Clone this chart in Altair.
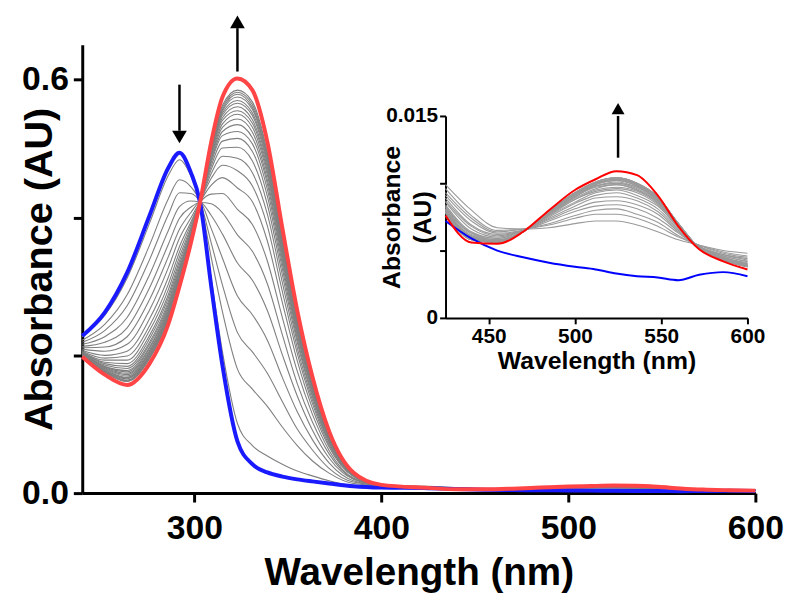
import altair as alt
import pandas as pd

FONT = "Liberation Sans"

# ---------------- main spectra (240-400 nm) ----------------
wl_main = [240, 252, 264, 276, 286, 292, 298, 303, 309, 315, 323, 331, 339, 347, 355, 363, 372, 385, 400]
blue_main = [0.228, 0.262, 0.320, 0.403, 0.472, 0.494, 0.466, 0.422, 0.300, 0.185, 0.075, 0.042, 0.030,
             0.024, 0.020, 0.017, 0.014, 0.010, 0.008]
red_main = [0.198, 0.172, 0.157, 0.188, 0.245, 0.300, 0.362, 0.422, 0.510, 0.575, 0.602, 0.585, 0.510,
            0.385, 0.265, 0.170, 0.090, 0.030, 0.012]

# grey intermediate spectra: one row per wavelength in wl_main, 24 curves per row
grey_main = [
    [0.227, 0.222, 0.219, 0.216, 0.213, 0.211, 0.209, 0.207, 0.206, 0.205, 0.204, 0.203, 0.202, 0.202, 0.201, 0.201, 0.201, 0.200, 0.200, 0.200, 0.200, 0.199, 0.199, 0.199],
    [0.258, 0.245, 0.236, 0.227, 0.219, 0.212, 0.206, 0.200, 0.196, 0.193, 0.190, 0.188, 0.186, 0.184, 0.183, 0.182, 0.181, 0.180, 0.179, 0.178, 0.177, 0.177, 0.176, 0.175],
    [0.312, 0.288, 0.272, 0.255, 0.240, 0.227, 0.216, 0.206, 0.199, 0.193, 0.188, 0.184, 0.181, 0.178, 0.176, 0.174, 0.172, 0.170, 0.168, 0.167, 0.166, 0.164, 0.163, 0.162],
    [0.392, 0.360, 0.339, 0.317, 0.298, 0.281, 0.266, 0.253, 0.243, 0.236, 0.229, 0.224, 0.219, 0.216, 0.212, 0.210, 0.207, 0.205, 0.203, 0.201, 0.199, 0.198, 0.196, 0.195],
    [0.461, 0.427, 0.404, 0.381, 0.361, 0.343, 0.327, 0.313, 0.303, 0.295, 0.288, 0.283, 0.278, 0.274, 0.271, 0.268, 0.265, 0.263, 0.260, 0.259, 0.257, 0.255, 0.254, 0.252],
    [0.484, 0.455, 0.436, 0.416, 0.399, 0.383, 0.370, 0.358, 0.350, 0.343, 0.337, 0.332, 0.328, 0.325, 0.322, 0.319, 0.317, 0.315, 0.313, 0.312, 0.310, 0.309, 0.307, 0.306],
    [0.461, 0.445, 0.435, 0.424, 0.415, 0.407, 0.399, 0.393, 0.389, 0.385, 0.382, 0.379, 0.377, 0.375, 0.374, 0.372, 0.371, 0.370, 0.369, 0.368, 0.367, 0.367, 0.366, 0.365],
    [0.422, 0.422, 0.422, 0.422, 0.422, 0.422, 0.422, 0.422, 0.422, 0.422, 0.422, 0.422, 0.422, 0.422, 0.422, 0.422, 0.422, 0.422, 0.422, 0.422, 0.422, 0.422, 0.422, 0.422],
    [0.311, 0.342, 0.363, 0.384, 0.403, 0.420, 0.434, 0.447, 0.457, 0.464, 0.470, 0.475, 0.480, 0.483, 0.486, 0.489, 0.492, 0.494, 0.496, 0.497, 0.499, 0.501, 0.502, 0.504],
    [0.205, 0.263, 0.302, 0.341, 0.376, 0.407, 0.435, 0.458, 0.476, 0.489, 0.501, 0.511, 0.519, 0.525, 0.531, 0.536, 0.541, 0.545, 0.549, 0.552, 0.555, 0.557, 0.560, 0.563],
    [0.101, 0.180, 0.233, 0.286, 0.334, 0.375, 0.412, 0.443, 0.468, 0.486, 0.502, 0.515, 0.525, 0.535, 0.543, 0.550, 0.555, 0.561, 0.566, 0.570, 0.575, 0.579, 0.582, 0.585],
    [0.069, 0.151, 0.205, 0.259, 0.309, 0.351, 0.390, 0.423, 0.446, 0.465, 0.482, 0.496, 0.507, 0.516, 0.524, 0.531, 0.537, 0.542, 0.548, 0.552, 0.557, 0.560, 0.564, 0.568],
    [0.054, 0.126, 0.174, 0.222, 0.265, 0.304, 0.337, 0.366, 0.388, 0.405, 0.419, 0.431, 0.441, 0.449, 0.455, 0.462, 0.467, 0.472, 0.477, 0.481, 0.485, 0.488, 0.492, 0.495],
    [0.042, 0.096, 0.133, 0.168, 0.201, 0.230, 0.255, 0.277, 0.293, 0.306, 0.317, 0.326, 0.333, 0.339, 0.344, 0.349, 0.353, 0.357, 0.360, 0.363, 0.366, 0.369, 0.371, 0.374],
    [0.032, 0.069, 0.093, 0.118, 0.141, 0.159, 0.177, 0.192, 0.203, 0.211, 0.219, 0.224, 0.229, 0.233, 0.237, 0.240, 0.243, 0.246, 0.248, 0.250, 0.252, 0.254, 0.256, 0.257],
    [0.025, 0.047, 0.063, 0.078, 0.092, 0.104, 0.115, 0.124, 0.131, 0.136, 0.141, 0.144, 0.148, 0.150, 0.153, 0.155, 0.156, 0.158, 0.160, 0.161, 0.162, 0.163, 0.164, 0.165],
    [0.018, 0.029, 0.036, 0.044, 0.051, 0.057, 0.062, 0.067, 0.070, 0.073, 0.075, 0.077, 0.079, 0.080, 0.081, 0.082, 0.083, 0.084, 0.085, 0.085, 0.086, 0.086, 0.087, 0.088],
    [0.011, 0.014, 0.016, 0.018, 0.020, 0.021, 0.022, 0.024, 0.025, 0.025, 0.026, 0.027, 0.027, 0.027, 0.028, 0.028, 0.028, 0.028, 0.029, 0.029, 0.029, 0.029, 0.029, 0.029],
    [0.0108, 0.0110, 0.0111, 0.0112, 0.0113, 0.0113, 0.0114, 0.0114, 0.0115, 0.0115, 0.0115, 0.0116, 0.0116, 0.0116, 0.0116, 0.0117, 0.0117, 0.0117, 0.0117, 0.0118, 0.0118, 0.0118, 0.0118, 0.0118],
]

# ---------------- visible-band tail (425-600 nm, also the inset) ----------------
wl_tail = [425, 440, 455, 470, 485, 500, 512, 524, 536, 548, 560, 572, 586, 600]
blue_tail = [0.0072, 0.0059, 0.0050, 0.0045, 0.0041, 0.0038, 0.0036, 0.0033, 0.0031, 0.0030, 0.0028, 0.0032, 0.0034, 0.0031]
red_tail = [0.0076, 0.0056, 0.0055, 0.0064, 0.0080, 0.0095, 0.0103, 0.0109, 0.0106, 0.0091, 0.0068, 0.0051, 0.0042, 0.0036]
# one row per grey curve (same 24 curves as above), values at wl_tail
grey_tail = [
    [0.0099, 0.0080, 0.0067, 0.0066, 0.0067, 0.0070, 0.0072, 0.0072, 0.0069, 0.0064, 0.0058, 0.0054, 0.0050, 0.0048],
    [0.0096, 0.0076, 0.0065, 0.0066, 0.0069, 0.0074, 0.0077, 0.0077, 0.0074, 0.0068, 0.0060, 0.0054, 0.0049, 0.0046],
    [0.0093, 0.0074, 0.0064, 0.0066, 0.0070, 0.0076, 0.0080, 0.0081, 0.0077, 0.0071, 0.0061, 0.0054, 0.0048, 0.0045],
    [0.0091, 0.0072, 0.0063, 0.0065, 0.0072, 0.0079, 0.0083, 0.0084, 0.0081, 0.0074, 0.0063, 0.0053, 0.0047, 0.0044],
    [0.0089, 0.0069, 0.0062, 0.0065, 0.0073, 0.0081, 0.0086, 0.0087, 0.0084, 0.0077, 0.0064, 0.0053, 0.0047, 0.0043],
    [0.0087, 0.0068, 0.0061, 0.0065, 0.0074, 0.0083, 0.0089, 0.0090, 0.0087, 0.0079, 0.0065, 0.0053, 0.0046, 0.0042],
    [0.0086, 0.0066, 0.0060, 0.0065, 0.0075, 0.0085, 0.0091, 0.0093, 0.0089, 0.0081, 0.0066, 0.0053, 0.0046, 0.0042],
    [0.0084, 0.0064, 0.0059, 0.0065, 0.0076, 0.0086, 0.0093, 0.0095, 0.0091, 0.0083, 0.0067, 0.0053, 0.0045, 0.0041],
    [0.0083, 0.0063, 0.0059, 0.0065, 0.0076, 0.0088, 0.0094, 0.0096, 0.0093, 0.0084, 0.0067, 0.0053, 0.0045, 0.0040],
    [0.0082, 0.0063, 0.0058, 0.0064, 0.0077, 0.0088, 0.0095, 0.0097, 0.0094, 0.0085, 0.0068, 0.0052, 0.0045, 0.0040],
    [0.0082, 0.0062, 0.0058, 0.0064, 0.0077, 0.0089, 0.0096, 0.0099, 0.0095, 0.0086, 0.0068, 0.0052, 0.0044, 0.0040],
    [0.0081, 0.0061, 0.0058, 0.0064, 0.0077, 0.0090, 0.0097, 0.0099, 0.0095, 0.0086, 0.0068, 0.0052, 0.0044, 0.0040],
    [0.0081, 0.0061, 0.0057, 0.0064, 0.0078, 0.0090, 0.0098, 0.0100, 0.0096, 0.0087, 0.0069, 0.0052, 0.0044, 0.0039],
    [0.0080, 0.0060, 0.0057, 0.0064, 0.0078, 0.0090, 0.0098, 0.0100, 0.0097, 0.0087, 0.0069, 0.0052, 0.0044, 0.0039],
    [0.0080, 0.0060, 0.0057, 0.0064, 0.0078, 0.0091, 0.0098, 0.0101, 0.0097, 0.0088, 0.0069, 0.0052, 0.0044, 0.0039],
    [0.0080, 0.0060, 0.0057, 0.0064, 0.0078, 0.0091, 0.0099, 0.0102, 0.0098, 0.0088, 0.0069, 0.0052, 0.0044, 0.0039],
    [0.0079, 0.0059, 0.0057, 0.0064, 0.0078, 0.0092, 0.0099, 0.0102, 0.0098, 0.0088, 0.0069, 0.0052, 0.0043, 0.0039],
    [0.0079, 0.0059, 0.0057, 0.0064, 0.0078, 0.0092, 0.0100, 0.0102, 0.0098, 0.0089, 0.0069, 0.0052, 0.0043, 0.0039],
    [0.0079, 0.0059, 0.0056, 0.0064, 0.0079, 0.0092, 0.0100, 0.0103, 0.0099, 0.0089, 0.0070, 0.0052, 0.0043, 0.0038],
    [0.0079, 0.0059, 0.0056, 0.0064, 0.0079, 0.0092, 0.0100, 0.0103, 0.0099, 0.0089, 0.0070, 0.0052, 0.0043, 0.0038],
    [0.0078, 0.0058, 0.0056, 0.0064, 0.0079, 0.0093, 0.0100, 0.0103, 0.0099, 0.0089, 0.0070, 0.0052, 0.0043, 0.0038],
    [0.0078, 0.0058, 0.0056, 0.0064, 0.0079, 0.0093, 0.0101, 0.0104, 0.0100, 0.0090, 0.0070, 0.0052, 0.0043, 0.0038],
    [0.0078, 0.0058, 0.0056, 0.0064, 0.0079, 0.0093, 0.0101, 0.0104, 0.0100, 0.0090, 0.0070, 0.0052, 0.0043, 0.0038],
    [0.0078, 0.0058, 0.0056, 0.0064, 0.0079, 0.0093, 0.0101, 0.0104, 0.0100, 0.0090, 0.0070, 0.0052, 0.0043, 0.0038],
]

# arrows (data coordinates)
arrow_main_x = [292, 323]
arrow_main_from = [0.593, 0.612]
arrow_main_to = [0.526, 0.675]
arrow_main_head = [0.517, 0.684]
arrow_main_shape = ["triangle-down", "triangle-up"]
arrow_in_x = [525]
arrow_in_from = [0.0119]
arrow_in_to = [0.0150]
arrow_in_head = [0.01555]
arrow_in_shape = ["triangle-up"]

# ---------------- tables ----------------
rows = []
for k, w in enumerate(wl_main):
    rows.append({"wl": w, "A": blue_main[k], "curve": "blue"})
    rows.append({"wl": w, "A": red_main[k], "curve": "red"})
    for i, v in enumerate(grey_main[k]):
        rows.append({"wl": w, "A": v, "curve": f"g{i:02d}"})
for k, w in enumerate(wl_tail):
    rows.append({"wl": w, "A": blue_tail[k], "curve": "blue"})
    rows.append({"wl": w, "A": red_tail[k], "curve": "red"})
    for i in range(len(grey_tail)):
        rows.append({"wl": w, "A": grey_tail[i][k], "curve": f"g{i:02d}"})
df = pd.DataFrame(rows)
df_grey = df[df.curve.str.startswith("g")]
df_blue = df[df.curve == "blue"]
df_red = df[df.curve == "red"]
tail = df.wl >= 425
df_grey_in = df[tail & df.curve.str.startswith("g")]
df_blue_in = df[tail & (df.curve == "blue")]
df_red_in = df[tail & (df.curve == "red")]

arrows_main = pd.DataFrame({"x": arrow_main_x, "y1": arrow_main_from, "y2": arrow_main_to,
                            "yh": arrow_main_head, "shape": arrow_main_shape})
arrows_in = pd.DataFrame({"x": arrow_in_x, "y1": arrow_in_from, "y2": arrow_in_to,
                          "yh": arrow_in_head, "shape": arrow_in_shape})

W, H = 680, 453

# ---------------- main panel ----------------
xs_main = alt.Scale(domain=[240, 600], nice=False, zero=False)
ys_main = alt.Scale(domain=[0, 0.651], nice=False, zero=False)
ax_x_main = alt.Axis(values=[300, 400, 500, 600], format="d", title="Wavelength (nm)", grid=False,
                     domainColor="black", domainWidth=3, tickColor="black", tickWidth=3, tickSize=9,
                     labelFont=FONT, labelFontSize=34, labelFontWeight="bold", labelColor="black",
                     labelPadding=10, titleFont=FONT, titleFontSize=39, titleFontWeight="bold",
                     titleColor="black", titlePadding=8, labelFlush=False)
ax_y_main = alt.Axis(values=[0, 0.2, 0.4, 0.6],
                     labelExpr="datum.value == 0 ? '0.0' : (datum.value == 0.6 ? '0.6' : '')",
                     title="Absorbance (AU)", grid=False,
                     domainColor="black", domainWidth=3, tickColor="black", tickWidth=3, tickSize=9,
                     labelFont=FONT, labelFontSize=34, labelFontWeight="bold", labelColor="black",
                     labelPadding=5, titleFont=FONT, titleFontSize=40, titleFontWeight="bold",
                     titleColor="black", titleX=-23, titleY=H / 2, labelFlush=False)

xm = alt.X("wl:Q", scale=xs_main, axis=ax_x_main)
ym = alt.Y("A:Q", scale=ys_main, axis=ax_y_main)

grey_m = alt.Chart(df_grey).mark_line(color="#7f7f7f", strokeWidth=1.1, interpolate="monotone").encode(
    x=xm, y=ym, detail="curve:N")
blue_m = alt.Chart(df_blue).mark_line(color="#1a1aff", strokeWidth=4, interpolate="monotone").encode(x=xm, y=ym)
red_m = alt.Chart(df_red).mark_line(color="#ff4545", strokeWidth=4, interpolate="monotone").encode(x=xm, y=ym)
arr_m = alt.Chart(arrows_main).mark_rule(color="black", strokeWidth=2.5).encode(
    x=alt.X("x:Q", scale=xs_main, axis=ax_x_main),
    y=alt.Y("y1:Q", scale=ys_main, axis=ax_y_main), y2="y2:Q")
head_m = alt.Chart(arrows_main).mark_point(filled=True, color="black", opacity=1, size=220).encode(
    x=alt.X("x:Q", scale=xs_main, axis=ax_x_main),
    y=alt.Y("yh:Q", scale=ys_main, axis=ax_y_main),
    shape=alt.Shape("shape:N", scale=None))
main = alt.layer(grey_m, blue_m, red_m, arr_m, head_m)

# ---------------- inset panel ----------------
IN_L, IN_R, IN_B, IN_T = 367, 672, 276, 72
xs_in = alt.Scale(domain=[425, 600], range=[IN_L, IN_R], nice=False, zero=False)
ys_in = alt.Scale(domain=[0, 0.015], range=[IN_B, IN_T], nice=False, zero=False)
ax_x_in = alt.Axis(orient="bottom", offset=-(H - IN_B), values=[450, 500, 550, 600], format="d",
                   title="Wavelength (nm)", grid=False, domainColor="black", domainWidth=2,
                   tickColor="black", tickWidth=2, tickSize=6, labelFont=FONT, labelFontSize=21,
                   labelFontWeight="bold", labelColor="black", labelPadding=2, titleFont=FONT,
                   titleFontSize=25, titleFontWeight="bold", titleColor="black", titlePadding=2,
                   labelFlush=False)
ax_y_in = alt.Axis(orient="left", offset=-IN_L, values=[0, 0.005, 0.01, 0.015],
                   labelExpr="datum.value == 0 ? '0' : (datum.value == 0.015 ? '0.015' : '')",
                   title=["Absorbance", "(AU)"], grid=False, domainColor="black", domainWidth=2,
                   tickColor="black", tickWidth=2, tickSize=6, labelFont=FONT, labelFontSize=21,
                   labelFontWeight="bold", labelColor="black", labelPadding=2, titleFont=FONT,
                   titleFontSize=25, titleFontWeight="bold", titleColor="black",
                   titleX=-42, titleY=(IN_B + IN_T) / 2, titleLineHeight=32, labelFlush=False)
xi = alt.X("wl:Q", scale=xs_in, axis=ax_x_in)
yi = alt.Y("A:Q", scale=ys_in, axis=ax_y_in)

grey_i = alt.Chart(df_grey_in).mark_line(color="#9a9a9a", strokeWidth=1.1, interpolate="monotone").encode(
    x=xi, y=yi, detail="curve:N")
blue_i = alt.Chart(df_blue_in).mark_line(color="#0000ff", strokeWidth=2, interpolate="monotone").encode(x=xi, y=yi)
red_i = alt.Chart(df_red_in).mark_line(color="#ff0000", strokeWidth=2, interpolate="monotone").encode(x=xi, y=yi)
arr_i = alt.Chart(arrows_in).mark_rule(color="black", strokeWidth=2.5).encode(
    x=alt.X("x:Q", scale=xs_in, axis=ax_x_in),
    y=alt.Y("y1:Q", scale=ys_in, axis=ax_y_in), y2="y2:Q")
head_i = alt.Chart(arrows_in).mark_point(filled=True, color="black", opacity=1, size=170).encode(
    x=alt.X("x:Q", scale=xs_in, axis=ax_x_in),
    y=alt.Y("yh:Q", scale=ys_in, axis=ax_y_in),
    shape=alt.Shape("shape:N", scale=None))
inset = alt.layer(grey_i, blue_i, red_i, arr_i, head_i)

chart = alt.layer(main, inset).resolve_scale(x="independent", y="independent").properties(
    width=W, height=H,
    padding={"left": 75, "top": 34, "right": 37, "bottom": 113},
    autosize=alt.AutoSizeParams(type="none"),
).configure_view(stroke=None)

chart.save("out.html", embed_options={"renderer": "svg", "actions": False})
